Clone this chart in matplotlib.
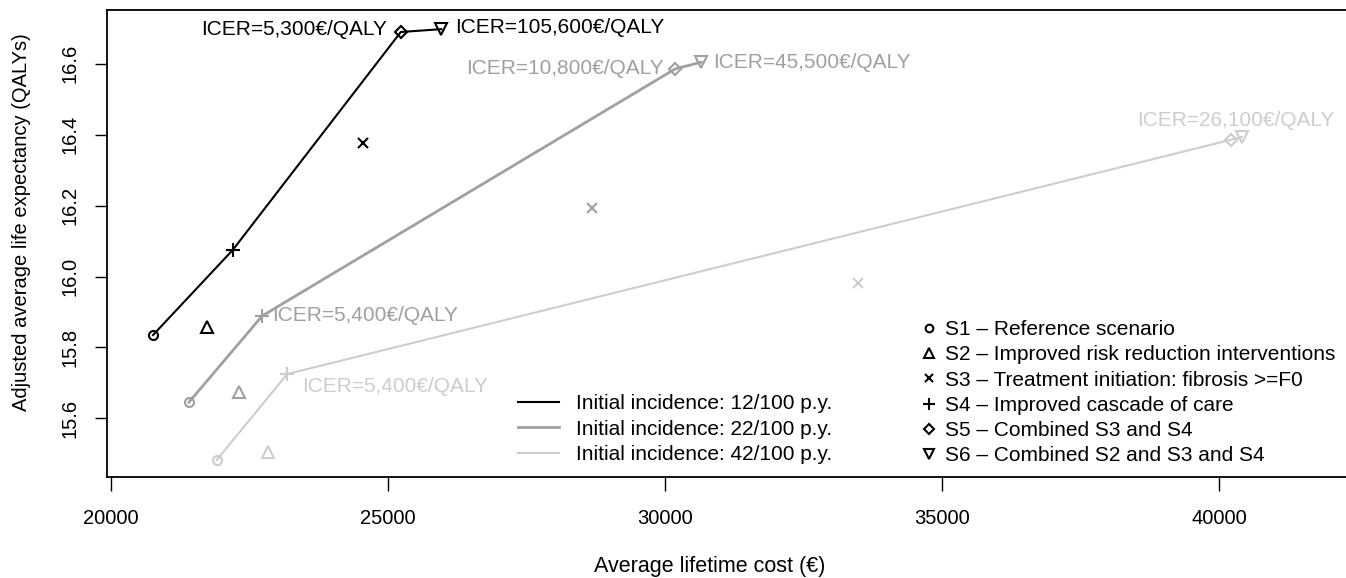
import matplotlib
matplotlib.use("Agg")
import matplotlib.pyplot as plt
from matplotlib.lines import Line2D

plt.rcParams['font.family'] = ['Liberation Sans', 'DejaVu Sans']
FS = 14.5
FS_TXT = 15

# scenarios S1..S6
scenarios = ["S1 \u2013 Reference scenario",
             "S2 \u2013 Improved risk reduction interventions",
             "S3 \u2013 Treatment initiation: fibrosis >=F0",
             "S4 \u2013 Improved cascade of care",
             "S5 \u2013 Combined S3 and S4",
             "S6 \u2013 Combined S2 and S3 and S4"]
markers = ['o', '^', 'x', '+', 'D', 'v']
msizes = [6.5, 8, 7, 10, 6, 8]

incidence = ["Initial incidence: 12/100 p.y.",
             "Initial incidence: 22/100 p.y.",
             "Initial incidence: 42/100 p.y."]

cost_12 = [20760, 21730, 24550, 22200, 25230, 25960]
qaly_12 = [15.835, 15.858, 16.376, 16.075, 16.689, 16.697]
cost_22 = [21410, 22310, 28680, 22730, 30180, 30650]
qaly_22 = [15.646, 15.675, 16.193, 15.889, 16.585, 16.604]
cost_42 = [21910, 22830, 33480, 23180, 40200, 40400]
qaly_42 = [15.483, 15.506, 15.982, 15.725, 16.385, 16.393]

# efficient frontier: S1 -> S4 -> S5 -> S6
frontier = [0, 3, 4, 5]

# ICER labels: (scenario index, text)
icer_12 = [(4, "ICER=5,300\u20ac/QALY"), (5, "ICER=105,600\u20ac/QALY")]
icer_22 = [(3, "ICER=5,400\u20ac/QALY"), (4, "ICER=10,800\u20ac/QALY"), (5, "ICER=45,500\u20ac/QALY")]
icer_42 = [(3, "ICER=5,400\u20ac/QALY"), (5, "ICER=26,100\u20ac/QALY")]

colors = ['#000000', '#a0a0a0', '#cdcdcd']
widths = [1.5, 2.0, 1.5]

# label offsets in points and alignment, per series
offs_12 = {4: (-10, 1.5, 'right'), 5: (10, 1.5, 'left')}
offs_22 = {3: (7, 0, 'left'), 4: (-8, 0.5, 'right'), 5: (8.5, 0, 'left')}
offs_42 = {3: (11, -9, 'left'), 5: (-4, 12, 'center')}

fig = plt.figure(figsize=(13.46, 5.78), dpi=100)
ax = fig.add_axes([107/1346, 101/578, 1243/1346, 467/578])

series = [(cost_12, qaly_12, icer_12, offs_12),
          (cost_22, qaly_22, icer_22, offs_22),
          (cost_42, qaly_42, icer_42, offs_42)]

for k, (cx, qy, icers, offs) in enumerate(series):
    col = colors[k]
    ax.plot([cx[i] for i in frontier], [qy[i] for i in frontier],
            color=col, lw=widths[k], zorder=2)
    for i in range(6):
        ax.plot(cx[i], qy[i], linestyle='none', marker=markers[i], ms=msizes[i],
                mfc='none', mec=col, mew=1.5, zorder=3)
    for i, txt in icers:
        dx, dy, ha = offs[i]
        ax.annotate(txt, (cx[i], qy[i]), xytext=(dx, dy), textcoords='offset points',
                    ha=ha, va='center', color=col, fontsize=FS_TXT)

ax.set_xlim(19930, 42355)
ax.set_ylim(15.435, 16.751)
ax.set_xticks([20000, 25000, 30000, 35000, 40000])
ax.set_yticks([15.6, 15.8, 16.0, 16.2, 16.4, 16.6])
ax.set_yticklabels(["15.6", "15.8", "16.0", "16.2", "16.4", "16.6"])
ax.tick_params(axis='x', length=10, width=1, labelsize=FS, pad=13)
ax.tick_params(axis='y', length=9, width=1, labelsize=FS, pad=11, labelrotation=90)
for lab in ax.get_yticklabels():
    lab.set_va('center')
for s in ax.spines.values():
    s.set_linewidth(1.3)

ax.set_xlabel("Average lifetime cost (\u20ac)", fontsize=15.5)
ax.xaxis.label.set_va('center')
ax.xaxis.set_label_coords(0.485, -0.1927)
ax.set_ylabel("Adjusted average life expectancy (QALYs)", fontsize=FS)
ax.yaxis.label.set_va('center')
ax.yaxis.set_label_coords(-0.069, 0.545)

line_handles = [Line2D([], [], color=colors[k], lw=widths[k]) for k in range(3)]
leg1 = ax.legend(line_handles, incidence, loc='upper left', bbox_to_anchor=(0.3306, 0.177),
                 frameon=False, fontsize=FS_TXT, handlelength=1.95, handletextpad=0.85,
                 labelspacing=0.3, borderpad=0, borderaxespad=0)
ax.add_artist(leg1)

mark_handles = [Line2D([], [], linestyle='none', marker=markers[i], ms=msizes[i] * 0.85,
                       mfc='none', mec='black', mew=1.5) for i in range(6)]
ax.legend(mark_handles, scenarios, loc='upper left', bbox_to_anchor=(0.656, 0.336),
          frameon=False, fontsize=FS_TXT, handlelength=0.6, handletextpad=0.5,
          labelspacing=0.3, borderpad=0, borderaxespad=0)

fig.savefig("out.png", dpi=100)
